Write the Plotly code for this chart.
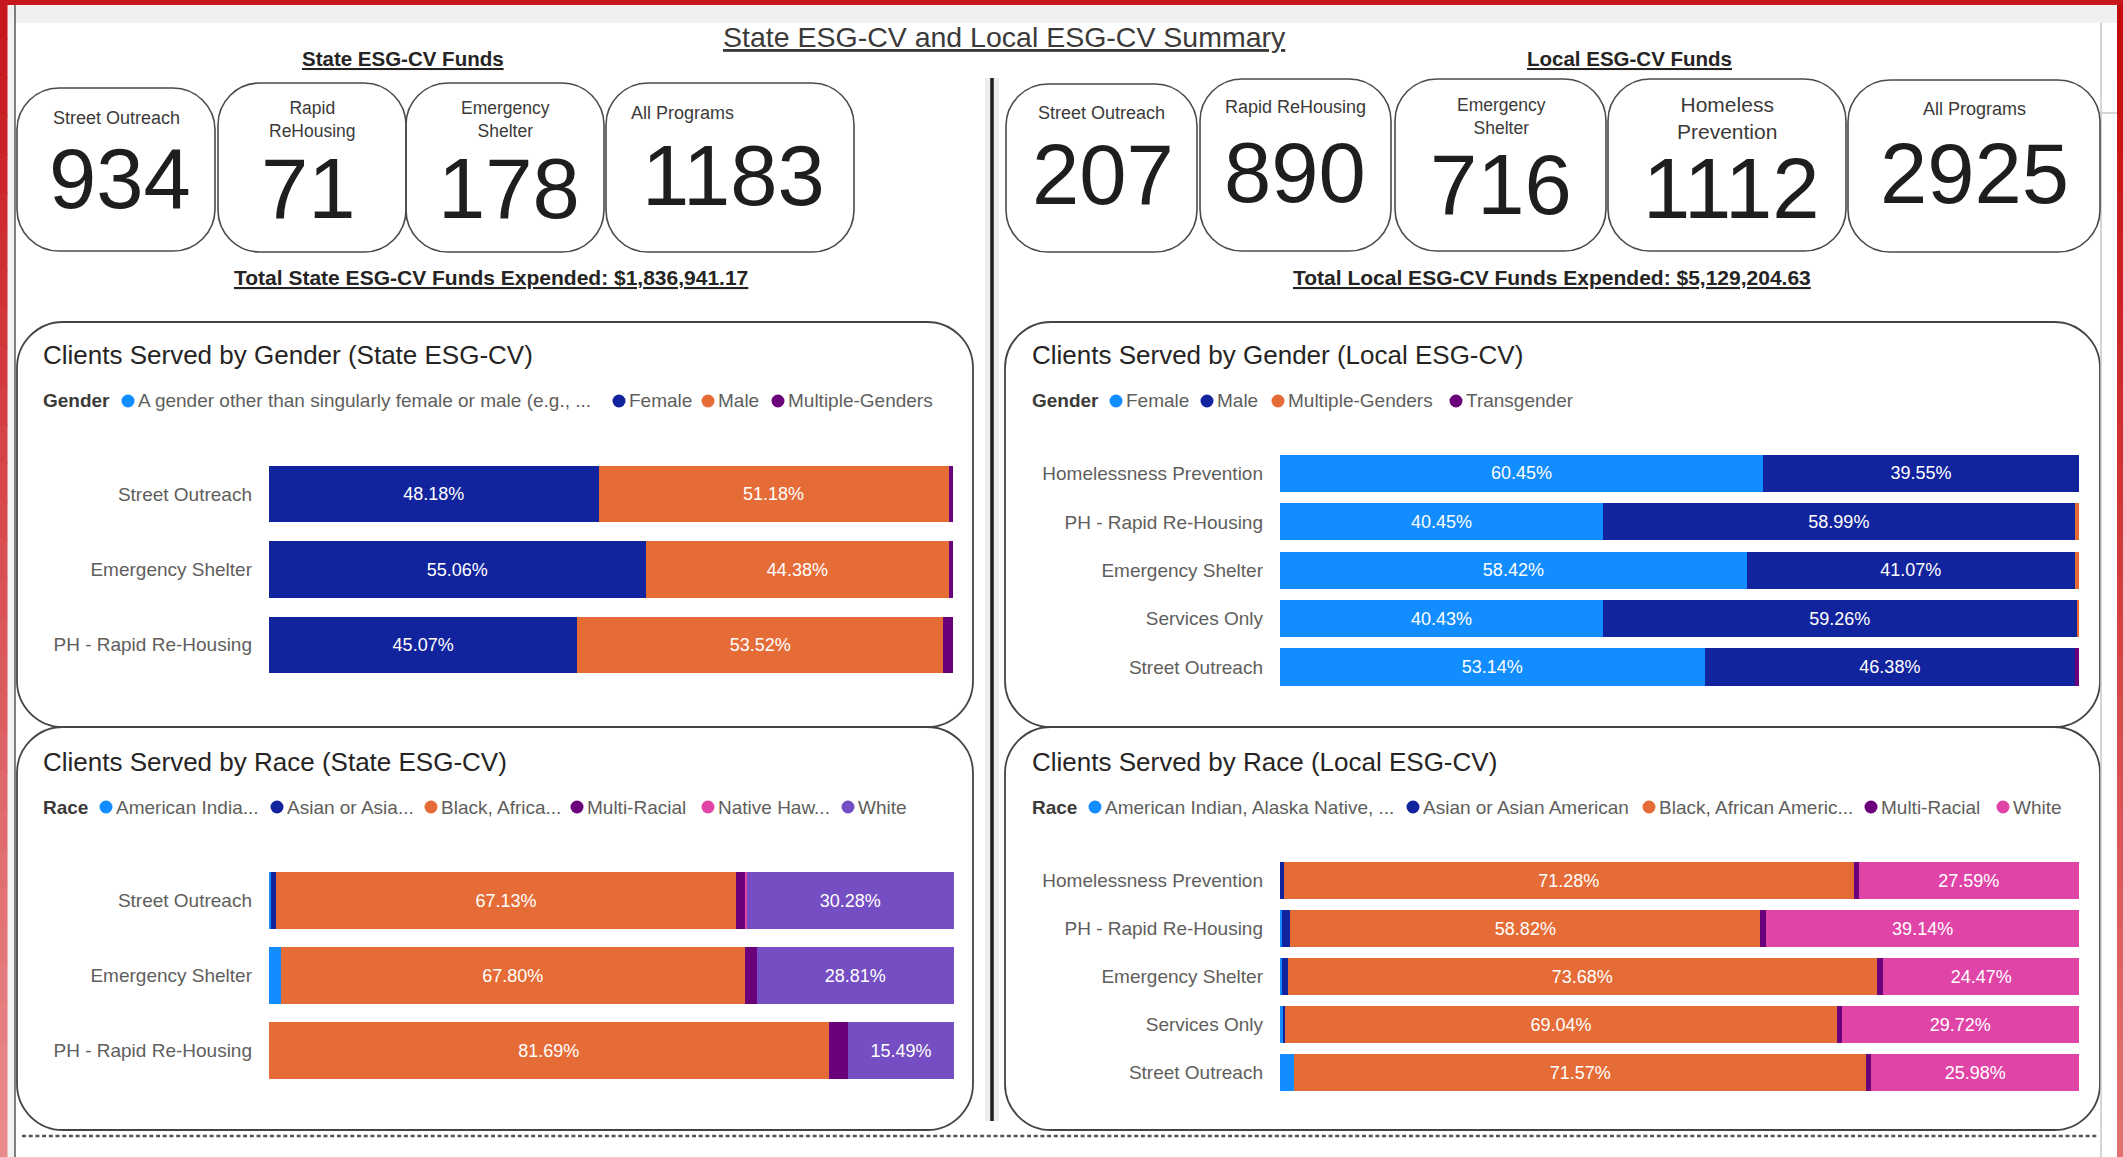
import plotly.graph_objects as go

W, H = 2123, 1157
FONT = "Liberation Sans, Arial, sans-serif"
DARK = "#252423"
GRAY = "#605E5C"

# ---------------- data ----------------
state_card_labels = ["Street Outreach", "Rapid<br>ReHousing", "Emergency<br>Shelter", "All Programs"]
state_card_values = [934, 71, 178, 1183]
local_card_labels = ["Street Outreach", "Rapid ReHousing", "Emergency<br>Shelter", "Homeless<br>Prevention", "All Programs"]
local_card_values = [207, 890, 716, 1112, 2925]
state_total_text = "Total State ESG-CV Funds Expended: $1,836,941.17"
local_total_text = "Total Local ESG-CV Funds Expended: $5,129,204.63"

state_programs = ["Street Outreach", "Emergency Shelter", "PH - Rapid Re-Housing"]
local_programs = ["Homelessness Prevention", "PH - Rapid Re-Housing", "Emergency Shelter",
                  "Services Only", "Street Outreach"]

state_gender_names = ["A gender other than singularly female or male (e.g., ...", "Female", "Male", "Multiple-Genders"]
state_gender_other = [0.0, 0.0, 0.0]
state_gender_female = [48.18, 55.06, 45.07]
state_gender_male = [51.18, 44.38, 53.52]
state_gender_multi = [0.64, 0.56, 1.41]

local_gender_names = ["Female", "Male", "Multiple-Genders", "Transgender"]
local_gender_female = [60.45, 40.45, 58.42, 40.43, 53.14]
local_gender_male = [39.55, 58.99, 41.07, 59.26, 46.38]
local_gender_multi = [0.0, 0.56, 0.51, 0.31, 0.0]
local_gender_trans = [0.0, 0.0, 0.0, 0.0, 0.48]

state_race_names = ["American India...", "Asian or Asia...", "Black, Africa...", "Multi-Racial", "Native Haw...", "White"]
state_race_amind = [0.25, 1.69, 0.0]
state_race_asian = [0.80, 0.0, 0.0]
state_race_black = [67.13, 67.80, 81.69]
state_race_multi = [1.43, 1.70, 2.82]
state_race_nhpi = [0.11, 0.0, 0.0]
state_race_white = [30.28, 28.81, 15.49]

local_race_names = ["American Indian, Alaska Native, ...", "Asian or Asian American", "Black, African Americ...",
                    "Multi-Racial", "White"]
local_race_amind = [0.0, 0.2, 0.3, 0.35, 1.80]
local_race_asian = [0.50, 1.10, 0.70, 0.30, 0.0]
local_race_black = [71.28, 58.82, 73.68, 69.04, 71.57]
local_race_multi = [0.63, 0.74, 0.85, 0.59, 0.65]
local_race_white = [27.59, 39.14, 24.47, 29.72, 25.98]

C_LB, C_DB, C_OR, C_PU, C_PK, C_VI = "#118DFF", "#12239E", "#E66C37", "#6B007B", "#E044A7", "#744EC2"


# ---------------- helpers ----------------
def px(x):
    return x / W


def py(y):
    return 1 - y / H


def P(x, y):
    return f"{px(x):.6f},{py(y):.6f}"


def rrect_path(x0, y0, x1, y1, r):
    k = 0.4477 * r
    return (f"M{P(x0 + r, y0)} L{P(x1 - r, y0)} C{P(x1 - k, y0)} {P(x1, y0 + k)} {P(x1, y0 + r)} "
            f"L{P(x1, y1 - r)} C{P(x1, y1 - k)} {P(x1 - k, y1)} {P(x1 - r, y1)} "
            f"L{P(x0 + r, y1)} C{P(x0 + k, y1)} {P(x0, y1 - k)} {P(x0, y1 - r)} "
            f"L{P(x0, y0 + r)} C{P(x0, y0 + k)} {P(x0 + k, y0)} {P(x0 + r, y0)} Z")


fig = go.Figure()
shapes = []
annotations = []


def text(x, y, s, size, color=DARK, xanchor="center", yanchor="middle", align="center"):
    annotations.append(dict(x=px(x), y=py(y), xref="paper", yref="paper", text=s, showarrow=False,
                            xanchor=xanchor, yanchor=yanchor, align=align,
                            font=dict(family=FONT, size=size, color=color)))


def hline(x0, x1, y, color, width, dash="solid"):
    shapes.append(dict(type="line", xref="paper", yref="paper", x0=px(x0), x1=px(x1), y0=py(y), y1=py(y),
                       line=dict(color=color, width=width, dash=dash)))


def vline(x, y0, y1, color, width):
    shapes.append(dict(type="line", xref="paper", yref="paper", x0=px(x), x1=px(x), y0=py(y0), y1=py(y1),
                       line=dict(color=color, width=width)))


def rect(x0, y0, x1, y1, color):
    shapes.append(dict(type="rect", xref="paper", yref="paper", x0=px(x0), x1=px(x1), y0=py(y0), y1=py(y1),
                       fillcolor=color, line=dict(width=0), layer="below"))


def lerp_color(c0, c1, t):
    a = [int(c0[i:i + 2], 16) for i in (1, 3, 5)]
    b = [int(c1[i:i + 2], 16) for i in (1, 3, 5)]
    return "#" + "".join(f"{round(a[i] + (b[i] - a[i]) * t):02x}" for i in range(3))


# ---------------- frame decoration ----------------
rect(7, 5, 2117, 23, "#F0F0F0")
rect(7, 23, 14, 1157, "#F2F2F2")
N = 30
for i in range(N):
    y0 = H * i / N
    y1 = H * (i + 1) / N
    rect(0, y0, 7.5, y1 + 1, lerp_color("#C8161D", "#E98A8B", i / (N - 1)))
    rect(2117, y0, 2123, y1 + 1, lerp_color("#C40A0A", "#E27272", i / (N - 1)))
rect(0, 0, 2123, 5, "#C8161D")
vline(15, 5, 1157, "#555555", 1.5)
vline(2101, 23, 1157, "#C8C8C8", 1.5)
hline(2101, 2117, 113, "#C8C8C8", 1.5)

# divider with soft shadow
vline(992, 78, 1121, "rgba(0,0,0,0.07)", 14)
vline(992, 78, 1121, "#1F1F1F", 3.5)
# dotted bottom line
hline(22, 2097, 1136, "#555555", 2.5, dash="4px,2.7px")

# ---------------- titles ----------------
text(1004, 37, "<u>State ESG-CV and Local ESG-CV Summary</u>", 28.5, "#3B3A39")
text(403, 59, "<b><u>State ESG-CV Funds</u></b>", 20.5, DARK)
text(1629, 59, "<b><u>Local ESG-CV Funds</u></b>", 20.5, DARK)
text(491, 278, f"<b><u>{state_total_text}</u></b>", 21, DARK)
text(1552, 278, f"<b><u>{local_total_text}</u></b>", 21, DARK)

# ---------------- cards ----------------
state_card_geom = [
    dict(box=(17, 88, 215, 251), lab=(116, 118, "center"), num=(120, 178), ls=18),
    dict(box=(218, 83, 406, 252), lab=(312, 120, "center"), num=(308, 188.5), ls=17.5),
    dict(box=(406, 83, 604, 252), lab=(505, 120, "center"), num=(509, 188.5), ls=17.5),
    dict(box=(606, 83, 854, 252), lab=(629, 113, "left"), num=(733, 176), ls=18),
]
local_card_geom = [
    dict(box=(1006, 84, 1197, 252), lab=(1101, 113, "center"), num=(1103, 175), ls=18),
    dict(box=(1200, 79, 1391, 251), lab=(1295, 107, "center"), num=(1295, 172), ls=18),
    dict(box=(1395, 79, 1606, 251), lab=(1501, 116, "center"), num=(1501, 185), ls=17.5),
    dict(box=(1608, 79, 1846, 251), lab=(1727, 118, "center"), num=(1731, 188), ls=21),
    dict(box=(1848, 80, 2100, 252), lab=(1974, 109, "center"), num=(1974, 174), ls=18),
]


def draw_cards(labels, values, geom):
    for lab, val, g in zip(labels, values, geom):
        x0, y0, x1, y1 = g["box"]
        shapes.append(dict(type="path", xref="paper", yref="paper", path=rrect_path(x0, y0, x1, y1, 42),
                           line=dict(color="#4A4A4A", width=1.6), fillcolor="rgba(0,0,0,0)"))
        lx, ly, la = g["lab"]
        text(lx, ly, lab, g["ls"], "#3B3A39", xanchor=la, align="center")
        nx, ny = g["num"]
        text(nx, ny, str(val), 85, "#1E1E1E")


draw_cards(state_card_labels, state_card_values, state_card_geom)
draw_cards(local_card_labels, local_card_values, local_card_geom)

# ---------------- panels ----------------
panels = [(17, 322, 973, 727), (17, 727, 973, 1130), (1005, 322, 2100, 727), (1005, 727, 2100, 1130)]
for (x0, y0, x1, y1) in panels:
    shapes.append(dict(type="path", xref="paper", yref="paper", path=rrect_path(x0, y0, x1, y1, 46),
                       line=dict(color="#444444", width=1.8), fillcolor="rgba(0,0,0,0)", layer="below"))

text(41, 355, "Clients Served by Gender (State ESG-CV)", 26, DARK, xanchor="left")
text(1030, 355, "Clients Served by Gender (Local ESG-CV)", 26, DARK, xanchor="left")
text(41, 762, "Clients Served by Race (State ESG-CV)", 26, DARK, xanchor="left")
text(1030, 762, "Clients Served by Race (Local ESG-CV)", 26, DARK, xanchor="left")


def legend(title, tx, y, names, colors, marker_xs):
    text(tx, y, f"<b>{title}</b>", 19, "#3B3A39", xanchor="left")
    for name, color, mx in zip(names, colors, marker_xs):
        shapes.append(dict(type="circle", xref="paper", yref="paper", xsizemode="pixel", ysizemode="pixel",
                           xanchor=px(mx), yanchor=py(y), x0=-6.5, x1=6.5, y0=-6.5, y1=6.5,
                           fillcolor=color, line=dict(width=0)))
        text(mx + 8, y, name, 19, GRAY, xanchor="left")


# ---------------- bar charts ----------------
def add_bars(names, colors, series, cats, xa, ya, width):
    for name, color, vals in zip(names, colors, series):
        fig.add_trace(go.Bar(
            y=cats, x=vals, name=name, orientation="h",
            marker=dict(color=color, line=dict(width=0)),
            text=[f"{v:.2f}%" if v >= 5 else "" for v in vals],
            textposition="inside", insidetextanchor="middle", textangle=0,
            textfont=dict(color="white", size=18, family=FONT),
            width=width, xaxis=xa, yaxis=ya, showlegend=False, hoverinfo="skip"))


sg_colors = [C_LB, C_DB, C_OR, C_PU]
lg_colors = [C_LB, C_DB, C_OR, C_PU]
sr_colors = [C_LB, C_DB, C_OR, C_PU, C_PK, C_VI]
lr_colors = [C_LB, C_DB, C_OR, C_PU, C_PK]

add_bars(state_gender_names, sg_colors,
         [state_gender_other, state_gender_female, state_gender_male, state_gender_multi],
         state_programs, "x", "y", 0.75)
add_bars(local_gender_names, lg_colors,
         [local_gender_female, local_gender_male, local_gender_multi, local_gender_trans],
         local_programs, "x2", "y2", 0.765)
add_bars(state_race_names, sr_colors,
         [state_race_amind, state_race_asian, state_race_black, state_race_multi, state_race_nhpi, state_race_white],
         state_programs, "x3", "y3", 0.75)
add_bars(local_race_names, lr_colors,
         [local_race_amind, local_race_asian, local_race_black, local_race_multi, local_race_white],
         local_programs, "x4", "y4", 0.765)

legend("Gender", 41, 401, state_gender_names, sg_colors, [128, 619, 708, 778])
legend("Gender", 1030, 401, local_gender_names, lg_colors, [1116, 1207, 1278, 1456])
legend("Race", 41, 807, state_race_names, sr_colors, [106, 277, 431, 577, 708, 848])
legend("Race", 1030, 807, local_race_names, lr_colors, [1095, 1413, 1649, 1871, 2003])

domains = {
    "": ((269, 953), (456.5, 682.5), state_programs),
    "2": ((1280, 2079), (449.3, 691.2), local_programs),
    "3": ((269, 954), (863, 1088), state_programs),
    "4": ((1280, 2079), (856.5, 1096.5), local_programs),
}
axes = {}
for k, ((x0, x1), (y0, y1), cats) in domains.items():
    axes["xaxis" + k] = dict(domain=[px(x0), px(x1)], range=[0, 100], showticklabels=False, showgrid=False,
                             zeroline=False, showline=False, fixedrange=True, anchor="y" + k)
    axes["yaxis" + k] = dict(domain=[py(y1), py(y0)], type="category", categoryorder="array",
                             categoryarray=cats, autorange="reversed", showgrid=False, zeroline=False,
                             showline=False, ticks="", ticklabelstandoff=16, anchor="x" + k,
                             tickfont=dict(family=FONT, size=19, color=GRAY), fixedrange=True)

fig.update_layout(
    width=W, height=H, autosize=False,
    margin=dict(l=0, r=0, t=0, b=0),
    paper_bgcolor="white", plot_bgcolor="rgba(0,0,0,0)",
    barmode="stack", showlegend=False,
    font=dict(family=FONT, color=DARK),
    shapes=shapes, annotations=annotations,
    **axes,
)

fig.write_html("out.html", config={"displayModeBar": False},
               post_script="document.body.style.margin='0px';document.body.style.padding='0px';"
                           "document.body.style.overflow='hidden';")
